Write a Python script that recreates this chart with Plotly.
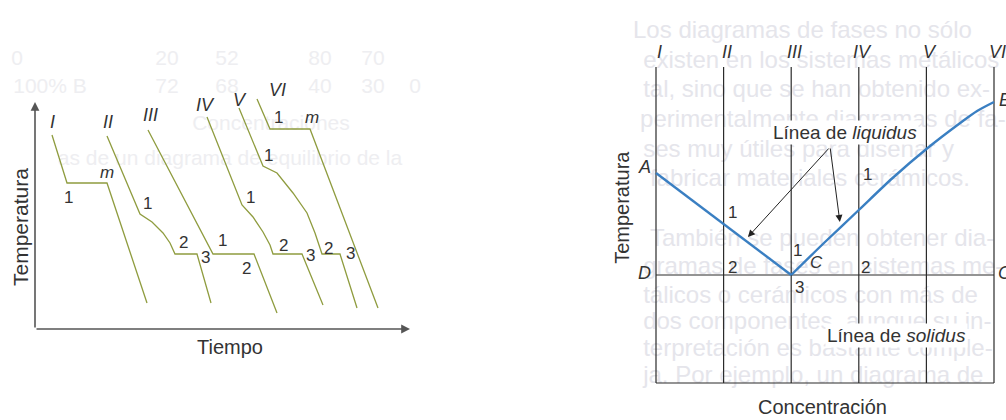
import plotly.graph_objects as go

FONT = "Liberation Sans, Arial, sans-serif"
INK = "#333333"
GREEN = "#8f9c3f"
BLUE = "#3a7fc2"
FRAME = "#2b2b2b"
GHOST_L = "#eeeef1"
GHOST_R = "#e5e5eb"

# ---------------- left panel: cooling curves (time, temperature; arbitrary units)
curve_names = ["I", "II", "III", "IV", "V", "VI"]
t_I = [17, 32, 72, 112]
T_I = [194, 146, 146, 26]
t_II = [72, 105, 117, 128, 135, 140, 162, 176]
T_II = [193, 115, 107, 96, 86, 75, 75, 26]
t_III = [113, 178, 219, 242]
T_III = [199, 75, 75, 16]
t_IV = [172, 207, 218, 228, 235, 238, 267, 288]
T_IV = [212, 124, 112, 97, 84, 75, 75, 24]
t_V = [204, 228, 242, 258, 272, 280, 285, 287, 305, 322]
T_V = [221, 163, 156, 136, 116, 96, 81, 75, 75, 21]
t_VI = [222, 235, 275, 343]
T_VI = [230, 200, 200, 21]
curves_t = [t_I, t_II, t_III, t_IV, t_V, t_VI]
curves_T = [T_I, T_II, T_III, T_IV, T_V, T_VI]

# curve name labels (time, temperature)
name_t = [17, 73, 115, 170, 205, 242]
name_T = [207, 207, 214, 224, 229, 239]

# point labels on the cooling curves
pt_text = ["1", "m", "1", "2", "3", "1", "2", "1", "2", "3", "1", "2", "3", "1", "m"]
pt_t = [33, 72, 112, 148, 170, 187, 211, 215, 248, 275, 233, 293, 315, 243, 277]
pt_T = [132, 157, 126, 87, 72, 89, 61, 132, 84, 74, 174, 81, 76, 212, 212]
pt_italic = [False, True] + [False] * 12 + [True]

time_max = 375
temp_arrow_top = 227

# ghost (show-through) text of the page, left panel
ghost_l_text = ["0", "20", "52", "80", "70",
                "100% B", "72", "68", "40", "30", "0",
                "Concentraciones", "as de un diagrama de equilibrio de la"]
ghost_l_t = [-18, 132, 192, 285, 338, 15, 132, 192, 285, 338, 380, 236, 195]
ghost_l_T = [269, 269, 269, 269, 269, 241, 241, 241, 241, 241, 241, 204, 169]

# ---------------- right panel: phase diagram (concentration %, temperature)
conc_lines = [0, 20, 40, 60, 80, 100]
conc_labels = ["I", "II", "III", "IV", "V", "VI"]
top_T = 316
eutectic_T = 108
liq_left_c = [0, 40]
liq_left_T = [210, 108]
liq_right_c = [40, 50, 60, 70, 80, 90, 95, 100]
liq_right_T = [108, 141, 173, 205, 234, 260, 272, 281]

letters = ["A", "D", "B", "C"]
letters_c = [-3.3, -3.3, 103.3, 103.3]
letters_T = [216, 110, 283, 110]

rp_text = ["1", "2", "1", "C", "3", "1", "2"]
rp_c = [22.5, 22.5, 42.0, 47.6, 42.6, 62.7, 62.1]
rp_T = [171, 116, 133, 121, 96, 209, 116]
rp_italic = [False, False, False, True, False, False, False]

# arrows for "Línea de liquidus": tail and two heads
arrow_tail = (51.5, 236)
arrow_heads_c = [27.2, 54.4]
arrow_heads_T = [146, 161]

ghost_r_text = [
    "Los diagramas de fases no sólo",
    "existen en los sistemas metálicos",
    "tal, sino que se han obtenido ex-",
    "perimentalmente diagramas de fa-",
    "ses muy útiles para diseñar y",
    "fabricar materiales cerámicos.",
    "También se pueden obtener dia-",
    "gramas de fases en sistemas me-",
    "tálicos o cerámicos con más de",
    "dos componentes, aunque su in-",
    "terpretación es bastante comple-",
    "ja. Por ejemplo, un diagrama de",
]
ghost_r_c = [-6.8, -3.8, -3.8, -4.7, -3.8, -1.8, -1.8, -3.8, -3.8, -3.8, -3.8, -3.8]
ghost_r_T = [351, 321, 292, 262, 232, 203, 143, 115, 86, 60, 33, 6]

# ---------------- layout geometry (pixels)
W, H = 1006, 420
L_X0, L_Y0 = 35, 329          # pixel of time=0, temp=0 (left panel), 1 unit = 1 px
R_X0, R_X1, R_Y0 = 656, 994, 383   # right panel: conc 0 and 100, temp 0 (1 unit = 1 px)
SPLIT = 600
r_scale = (R_X1 - R_X0) / 100.0

fig = go.Figure()

fig.add_trace(go.Scatter(x=ghost_l_t, y=ghost_l_T, text=ghost_l_text, mode="text",
                         textfont=dict(family=FONT, size=21, color=GHOST_L),
                         xaxis="x", yaxis="y", cliponaxis=False, hoverinfo="skip",
                         showlegend=False))
fig.add_trace(go.Scatter(x=ghost_r_c, y=ghost_r_T, text=ghost_r_text, mode="text",
                         textposition="middle right",
                         textfont=dict(family=FONT, size=24, color=GHOST_R),
                         xaxis="x2", yaxis="y2", cliponaxis=False, hoverinfo="skip",
                         showlegend=False))

for name, tt, TT in zip(curve_names, curves_t, curves_T):
    fig.add_trace(go.Scatter(x=tt, y=TT, mode="lines", name=name,
                             line=dict(color=GREEN, width=1.3),
                             xaxis="x", yaxis="y", hoverinfo="skip", showlegend=False))

vx, vy = [], []
for c in conc_lines:
    vx += [c, c, None]
    vy += [0, top_T, None]
for T in [0, eutectic_T]:
    vx += [conc_lines[0], conc_lines[-1], None]
    vy += [T, T, None]
fig.add_trace(go.Scatter(x=vx, y=vy, mode="lines", line=dict(color=FRAME, width=1.2),
                         xaxis="x2", yaxis="y2", hoverinfo="skip", showlegend=False))
fig.add_trace(go.Scatter(x=liq_left_c, y=liq_left_T, mode="lines",
                         line=dict(color=BLUE, width=2.4),
                         xaxis="x2", yaxis="y2", hoverinfo="skip", showlegend=False))
fig.add_trace(go.Scatter(x=liq_right_c, y=liq_right_T, mode="lines",
                         line=dict(color=BLUE, width=2.4, shape="spline", smoothing=0.8),
                         xaxis="x2", yaxis="y2", hoverinfo="skip", showlegend=False))

ann = []
ann.append(dict(x=time_max, y=0, ax=0, ay=0, xref="x", yref="y", axref="x", ayref="y",
                text="", showarrow=True, arrowhead=2, arrowsize=1.1, arrowwidth=1.6,
                arrowcolor="#555555"))
ann.append(dict(x=0, y=temp_arrow_top, ax=0, ay=0, xref="x", yref="y", axref="x", ayref="y",
                text="", showarrow=True, arrowhead=2, arrowsize=1.1, arrowwidth=1.6,
                arrowcolor="#555555"))
ann.append(dict(x=195, y=-18, xref="x", yref="y", text="Tiempo", showarrow=False,
                font=dict(family=FONT, size=20, color=INK)))
ann.append(dict(x=-15, y=102, xref="x", yref="y", text="Temperatura", showarrow=False,
                textangle=-90, font=dict(family=FONT, size=21, color=INK)))
for n, tt, TT in zip(curve_names, name_t, name_T):
    ann.append(dict(x=tt, y=TT, xref="x", yref="y", text="<i>%s</i>" % n, showarrow=False,
                    font=dict(family=FONT, size=18, color=INK)))
for s, tt, TT, it in zip(pt_text, pt_t, pt_T, pt_italic):
    ann.append(dict(x=tt, y=TT, xref="x", yref="y", text=("<i>%s</i>" % s) if it else s,
                    showarrow=False, font=dict(family=FONT, size=17, color=INK)))

for c, lab in zip(conc_lines, conc_labels):
    ann.append(dict(x=c + 1.0, y=331, xref="x2", yref="y2", text="<i>%s</i>" % lab,
                    showarrow=False, font=dict(family=FONT, size=18, color=INK)))
for s, c, T in zip(letters, letters_c, letters_T):
    ann.append(dict(x=c, y=T, xref="x2", yref="y2", text="<i>%s</i>" % s,
                    showarrow=False, font=dict(family=FONT, size=18, color=INK)))
for s, c, T, it in zip(rp_text, rp_c, rp_T, rp_italic):
    ann.append(dict(x=c, y=T, xref="x2", yref="y2", text=("<i>%s</i>" % s) if it else s,
                    showarrow=False, font=dict(family=FONT, size=17, color=INK)))
for hc, hT in zip(arrow_heads_c, arrow_heads_T):
    ann.append(dict(x=hc, y=hT, ax=arrow_tail[0], ay=arrow_tail[1], xref="x2", yref="y2",
                    axref="x2", ayref="y2", text="", showarrow=True, arrowhead=2,
                    arrowsize=1.4, arrowwidth=1, arrowcolor="#222222"))
ann.append(dict(x=55.9, y=251, xref="x2", yref="y2", text="Línea de <i>liquidus</i>",
                showarrow=False, bgcolor="white", borderpad=1,
                font=dict(family=FONT, size=19, color=INK)))
ann.append(dict(x=71.3, y=48, xref="x2", yref="y2", text="Línea de <i>solidus</i>",
                showarrow=False, bgcolor="white", borderpad=1,
                font=dict(family=FONT, size=19, color=INK)))
ann.append(dict(x=49.4, y=-24, xref="x2", yref="y2", text="Concentración",
                showarrow=False, font=dict(family=FONT, size=20, color=INK)))
ann.append(dict(x=-10.1, y=176, xref="x2", yref="y2", text="Temperatura",
                showarrow=False, textangle=-90, font=dict(family=FONT, size=20, color=INK)))

hidden = dict(visible=False, showgrid=False, zeroline=False, fixedrange=True)
fig.update_layout(
    width=W, height=H, margin=dict(l=0, r=0, t=0, b=0),
    paper_bgcolor="white", plot_bgcolor="rgba(0,0,0,0)",
    xaxis=dict(domain=[0, SPLIT / W], range=[-L_X0, SPLIT - L_X0], **hidden),
    yaxis=dict(domain=[0, 1], range=[L_Y0 - H, L_Y0], **hidden),
    xaxis2=dict(domain=[SPLIT / W, 1], range=[(SPLIT - R_X0) / r_scale, (W - R_X0) / r_scale],
                anchor="y2", **hidden),
    yaxis2=dict(domain=[0, 1], range=[R_Y0 - H, R_Y0], anchor="x2", **hidden),
    annotations=ann, hovermode=False, showlegend=False,
)
fig.write_html("out.html", config={"displayModeBar": False},
               post_script="document.body.style.margin='0';")
